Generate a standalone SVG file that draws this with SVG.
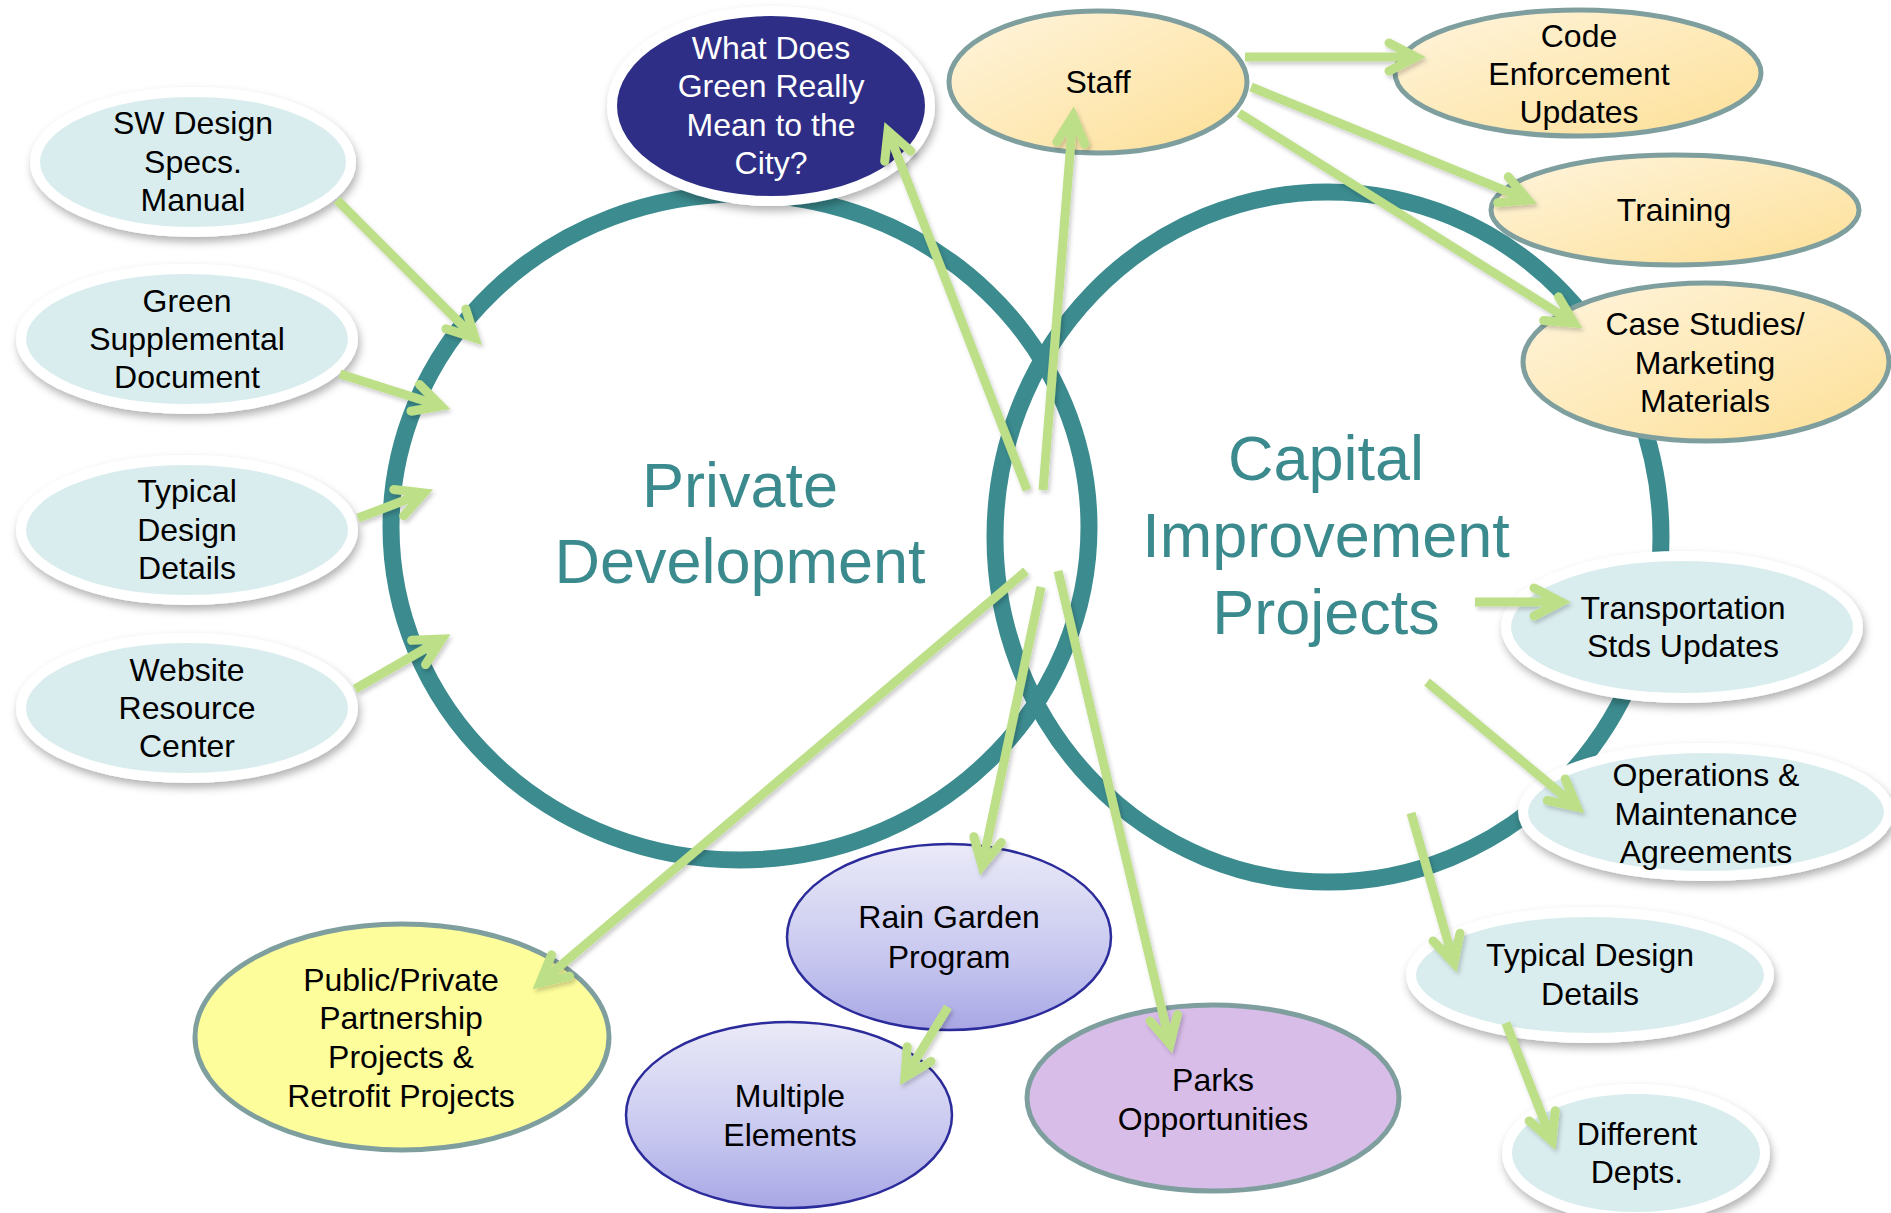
<svg xmlns="http://www.w3.org/2000/svg" width="1891" height="1213" viewBox="0 0 1891 1213">
<defs>
<style>
.lbl{font-family:"Liberation Sans",Arial,sans-serif;font-size:32px;fill:#000;text-anchor:middle}
.big{font-family:"Liberation Sans",Arial,sans-serif;font-size:63px;fill:#3a8a8e;text-anchor:middle}
.ring{fill:none;stroke:#3b8b8f;stroke-width:17}
.lt{fill:#daedee;stroke:#fff;stroke-width:10;filter:url(#sh)}
.yel{fill:url(#gy);stroke:#7f9f9f;stroke-width:5}
.lav{fill:url(#gl);stroke:#2b2b9b;stroke-width:2.5}
.con line{stroke:#bcdf88;stroke-width:9;marker-end:url(#ah)}
</style>
<linearGradient id="gy" x1="0" y1="0" x2="1" y2="1">
<stop offset="0" stop-color="#fff5de"/>
<stop offset="1" stop-color="#fddf96"/>
</linearGradient>
<linearGradient id="gl" x1="0" y1="0" x2="0" y2="1">
<stop offset="0" stop-color="#eaeaf8"/>
<stop offset="0.6" stop-color="#c8c8f0"/>
<stop offset="1" stop-color="#a8a7e5"/>
</linearGradient>
<filter id="sh" x="-10%" y="-10%" width="120%" height="130%">
<feDropShadow dx="2" dy="5" stdDeviation="4" flood-color="#000" flood-opacity="0.3"/>
</filter>
<filter id="ash" x="-10%" y="-10%" width="120%" height="120%">
<feDropShadow dx="2" dy="3" stdDeviation="2" flood-color="#000" flood-opacity="0.2"/>
</filter>
<marker id="ah" markerUnits="userSpaceOnUse" markerWidth="80" markerHeight="80" viewBox="-40 -40 80 80" refX="0" refY="0" orient="auto" overflow="visible">
<path d="M-27,-14 L0,0 L-27,14" fill="none" stroke="#bcdf88" stroke-width="9" stroke-linejoin="miter" stroke-miterlimit="10" stroke-linecap="round"/>
</marker>
</defs>
<rect width="1891" height="1213" fill="#fff"/>

<g id="private-development">
<ellipse class="ring" cx="740" cy="527" rx="349" ry="333"/>
<text class="big" x="740" y="507">Private</text>
<text class="big" x="740" y="583">Development</text>
</g>
<g id="capital-improvement-projects">
<ellipse class="ring" cx="1328" cy="537" rx="333" ry="345"/>
<text class="big" x="1326" y="480">Capital</text>
<text class="big" x="1326" y="557">Improvement</text>
<text class="big" x="1326" y="634">Projects</text>
</g>

<g id="sw-design">
<ellipse class="lt" cx="193" cy="162" rx="158" ry="70"/>
<text class="lbl" x="193" y="134">SW Design</text>
<text class="lbl" x="193" y="173">Specs.</text>
<text class="lbl" x="193" y="211">Manual</text>
</g>
<g id="green-supplemental">
<ellipse class="lt" cx="187" cy="339" rx="166" ry="70"/>
<text class="lbl" x="187" y="312">Green</text>
<text class="lbl" x="187" y="350">Supplemental</text>
<text class="lbl" x="187" y="388">Document</text>
</g>
<g id="typical-design-left">
<ellipse class="lt" cx="187" cy="530" rx="166" ry="70"/>
<text class="lbl" x="187" y="502">Typical</text>
<text class="lbl" x="187" y="541">Design</text>
<text class="lbl" x="187" y="579">Details</text>
</g>
<g id="website">
<ellipse class="lt" cx="187" cy="708" rx="166" ry="70"/>
<text class="lbl" x="187" y="681">Website</text>
<text class="lbl" x="187" y="719">Resource</text>
<text class="lbl" x="187" y="757">Center</text>
</g>
<g id="what-does-green">
<ellipse cx="771" cy="106" rx="159" ry="95" fill="#2e2f86" stroke="#fff" stroke-width="10" filter="url(#sh)"/>
<text class="lbl" x="771" y="59" style="fill:#fff">What Does</text>
<text class="lbl" x="771" y="97" style="fill:#fff">Green Really</text>
<text class="lbl" x="771" y="136" style="fill:#fff">Mean to the</text>
<text class="lbl" x="771" y="174" style="fill:#fff">City?</text>
</g>
<g id="staff">
<ellipse class="yel" cx="1098" cy="82" rx="149" ry="71"/>
<text class="lbl" x="1098" y="93">Staff</text>
</g>
<g id="code-enforcement">
<ellipse class="yel" cx="1578" cy="73" rx="183" ry="63"/>
<text class="lbl" x="1579" y="47">Code</text>
<text class="lbl" x="1579" y="85">Enforcement</text>
<text class="lbl" x="1579" y="123">Updates</text>
</g>
<g id="training">
<ellipse class="yel" cx="1675" cy="210" rx="184" ry="55"/>
<text class="lbl" x="1674" y="221">Training</text>
</g>
<g id="case-studies">
<ellipse class="yel" cx="1706" cy="362" rx="183" ry="79"/>
<text class="lbl" x="1705" y="335">Case Studies/</text>
<text class="lbl" x="1705" y="374">Marketing</text>
<text class="lbl" x="1705" y="412">Materials</text>
</g>
<g id="transportation">
<ellipse class="lt" cx="1682" cy="627" rx="176" ry="71"/>
<text class="lbl" x="1683" y="619">Transportation</text>
<text class="lbl" x="1683" y="657">Stds Updates</text>
</g>
<g id="operations">
<ellipse class="lt" cx="1706" cy="812" rx="183" ry="64"/>
<text class="lbl" x="1706" y="786">Operations &amp;</text>
<text class="lbl" x="1706" y="825">Maintenance</text>
<text class="lbl" x="1706" y="863">Agreements</text>
</g>
<g id="typical-design-right">
<ellipse class="lt" cx="1590" cy="975" rx="179" ry="63"/>
<text class="lbl" x="1590" y="966">Typical Design</text>
<text class="lbl" x="1590" y="1005">Details</text>
</g>
<g id="different-depts">
<ellipse class="lt" cx="1636" cy="1153" rx="129" ry="64"/>
<text class="lbl" x="1637" y="1145">Different</text>
<text class="lbl" x="1637" y="1183">Depts.</text>
</g>
<g id="parks">
<ellipse cx="1213" cy="1098" rx="186" ry="93" fill="#d8bde9" stroke="#7f9f9f" stroke-width="5"/>
<text class="lbl" x="1213" y="1091">Parks</text>
<text class="lbl" x="1213" y="1130">Opportunities</text>
</g>
<g id="rain-garden">
<ellipse class="lav" cx="949" cy="937" rx="162" ry="93"/>
<text class="lbl" x="949" y="928">Rain Garden</text>
<text class="lbl" x="949" y="968">Program</text>
</g>
<g id="multiple-elements">
<ellipse class="lav" cx="789" cy="1115" rx="163" ry="93"/>
<text class="lbl" x="790" y="1107">Multiple</text>
<text class="lbl" x="790" y="1146">Elements</text>
</g>
<g id="public-private">
<ellipse cx="402" cy="1037" rx="207" ry="113" fill="#fdfd9b" stroke="#7f9f9f" stroke-width="5"/>
<text class="lbl" x="401" y="991">Public/Private</text>
<text class="lbl" x="401" y="1029">Partnership</text>
<text class="lbl" x="401" y="1068">Projects &amp;</text>
<text class="lbl" x="401" y="1107">Retrofit Projects</text>
</g>

<g id="connectors" class="con" filter="url(#ash)">
<line x1="337" y1="200" x2="475" y2="338"/>
<line x1="340" y1="374" x2="441" y2="406"/>
<line x1="358" y1="518" x2="424" y2="493"/>
<line x1="355" y1="689" x2="442" y2="639"/>
<line x1="1027" y1="490" x2="888" y2="131"/>
<line x1="1043" y1="490" x2="1073" y2="116"/>
<line x1="1245" y1="57" x2="1416" y2="57"/>
<line x1="1251" y1="87" x2="1528" y2="200"/>
<line x1="1239" y1="113" x2="1574" y2="323"/>
<line x1="1026" y1="571" x2="540" y2="983"/>
<line x1="1041" y1="587" x2="982" y2="866"/>
<line x1="1058" y1="571" x2="1170" y2="1044"/>
<line x1="948" y1="1007" x2="905" y2="1077"/>
<line x1="1475" y1="602" x2="1561" y2="602"/>
<line x1="1427" y1="682" x2="1577" y2="807"/>
<line x1="1411" y1="813" x2="1454" y2="963"/>
<line x1="1506" y1="1023" x2="1552" y2="1141"/>
</g>
</svg>
